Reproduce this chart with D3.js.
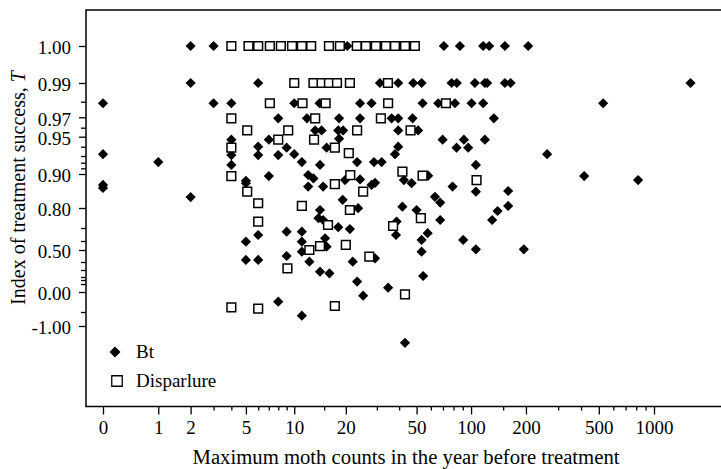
<!DOCTYPE html>
<html>
<head>
<meta charset="utf-8">
<script src="https://cdn.jsdelivr.net/npm/d3@7"></script>
<style>
  body { margin: 0; background: #fff; }
  svg text { font-family: "Liberation Serif", "Times New Roman", serif; fill: #000; }
</style>
</head>
<body>
<script>
// scatter of treatment success vs. moth counts

var width = 721;
var height = 469;

// Bt (filled diamonds)
var btCounts = [
  0, 0, 0, 0, 1, 2, 2, 2, 3, 3,
  4, 4, 4, 4, 5, 5, 5, 5, 6, 6,
  6, 6, 6, 7, 7, 8, 8, 8, 9, 9,
  9, 10, 10, 11.1, 11.1, 11.1, 11.1, 11.1, 11.9, 12.1,
  13, 12.1, 12.3, 13.3, 14.5, 14.1, 14.2, 14.2, 13.9, 14.8,
  15.2, 15.5, 14.2, 16.1, 14.8, 15.5, 18.3, 18.3, 18.1, 19.3,
  19.8, 19.2, 18.1, 20.4, 21.1, 21.9, 23.2, 23.5, 24.1, 23.2,
  24.1, 28, 24.1, 25.1, 28.9, 31.9, 28, 29.3, 29.3, 31.2,
  39.5, 34.7, 36.3, 39.5, 39.5, 39.5, 37.9, 42.5, 46.9, 41.7,
  38.7, 38.4, 43.1, 47.5, 47.9, 53.3, 51, 54, 50, 58,
  57.6, 53.3, 53.3, 54.4, 63.2, 67.6, 67.6, 65.9, 81.5, 70.8,
  86.8, 78.1, 83.5, 69.7, 91.3, 83.2, 96.4, 79.1, 90.5, 100.6,
  104.9, 106.3, 106.3, 106.3, 116.5, 125.7, 153.3, 205.7, 119.1, 122.6,
  153.3, 164.8, 116.5, 133.4, 119.1, 159.8, 159.8, 139.8, 130.6, 194.7,
  261, 416, 528, 819, 1581
];
var btT = [
  0.979, 0.932, 0.868, 0.859, 0.921, 1.00, 0.99, 0.832, 1.00, 0.979,
  0.979, 0.947, 0.931, 0.916, 0.880, 0.873, 0.593, 0.417, 0.99, 0.94,
  0.931, 0.646, 0.417, 0.947, 0.894, 0.969, 0.931, -0.243, 0.939, 0.672,
  0.45, 0.932, 0.979, 0.921, 0.672, 0.593, 0.486, -0.632, 0.969, 0.897,
  0.887, 0.863, 0.403, 0.957, 0.957, 0.979, 0.916, 0.79, 0.749, 0.74,
  0.621, 0.537, 0.276, 0.253, 0.863, 0.939, 0.969, 0.948, 0.957, 0.957,
  0.882, 0.824, 0.704, 1.00, 0.692, 0.403, 0.13, 0.799, 0.884, 0.921,
  0.979, 0.979, 0.969, -0.093, 0.921, 0.921, 0.868, 0.874, 0.431, 0.99,
  0.99, 0.054, 0.969, 0.969, 0.957, 0.94, 0.932, 0.882, 0.873, 0.804,
  0.732, 0.646, -1.6, 0.969, 0.99, 0.99, 0.957, 0.979, 0.79, 0.895,
  0.66, 0.608, 0.486, 0.214, 0.833, 0.816, 0.74, 0.979, 0.979, 1.00,
  1.00, 0.99, 0.99, 0.947, 0.947, 0.939, 0.939, 0.863, 0.608, 0.979,
  0.99, 0.916, 0.848, 0.508, 1.00, 1.00, 1.00, 1.00, 0.99, 0.99,
  0.99, 0.99, 0.979, 0.969, 0.947, 0.85, 0.806, 0.785, 0.74, 0.508,
  0.932, 0.894, 0.979, 0.882, 0.99
];

// Disparlure (open squares)
var dispCounts = [
  4, 5.2, 6, 7.1, 8.3, 9.7, 11.1, 12.6, 16, 18.5,
  23.1, 26, 29.6, 33.7, 37.9, 43.1, 48.9, 10, 13, 14.5,
  16, 17.8, 21.1, 34.6, 7.1, 11.2, 15.3, 34.7, 72.7, 4,
  13.3, 31.6, 5.1, 9.2, 23.2, 46.3, 13.1, 8, 4, 17.3,
  20.8, 21.2, 41.7, 54, 107.2, 17.3, 25.1, 11.1, 21.1, 15.8,
  37, 52.8, 12.3, 14.2, 20, 27.2, 9.1, 43.1, 17.3, 4,
  5.1, 6, 6, 4, 6
];
var dispT = [
  1, 1, 1, 1, 1, 1, 1, 1, 1, 1,
  1, 1, 1, 1, 1, 1, 1, 0.99, 0.99, 0.99,
  0.99, 0.99, 0.99, 0.99, 0.979, 0.979, 0.979, 0.979, 0.979, 0.969,
  0.969, 0.969, 0.957, 0.957, 0.957, 0.957, 0.947, 0.947, 0.939, 0.939,
  0.933, 0.897, 0.904, 0.895, 0.882, 0.870, 0.848, 0.806, 0.79, 0.715,
  0.71, 0.749, 0.50, 0.544, 0.556, 0.444, 0.321, -0.057, -0.35, 0.894,
  0.848, 0.814, 0.732, -0.383, -0.418
];

// tick labels
var xMajor = [0, 1, 2, 5, 10, 20, 50, 100, 200, 500, 1000];
var xMinor = [3, 4, 6, 7, 8, 9, 15, 30, 40, 60, 70, 80, 90, 150, 300, 400, 600, 700, 800, 900];
var yMajor = [1.00, 0.99, 0.97, 0.95, 0.90, 0.80, 0.50, 0.00, -1.00];
var yMinor = [0.98, 0.96, 0.94, 0.93, 0.92, 0.91, 0.7, 0.6, 0.4, 0.3, 0.2, 0.15, 0.1, -0.5];

// frame  (note: "top" is taken by window.top, so plot* names)
var plotLeft = 86, plotTop = 10, plotRight = 723, plotBottom = 406.5;

// the T axis is drawn on the paper's own stretched scale
var yBreaks = [-1, -0.5, 0, 0.1, 0.15, 0.2, 0.3, 0.4, 0.5, 0.6, 0.7, 0.8, 0.9,
               0.91, 0.92, 0.93, 0.94, 0.95, 0.96, 0.97, 0.98, 0.99, 1.0];
var yBreakPos = [326, 312, 292, 284, 280, 277, 270, 262, 250, 241, 228, 208, 174,
                 168.3, 162.7, 156, 146.7, 136.7, 127.7, 117.3, 101.7, 83, 46];

var x = d3.scaleLog().domain([1, 1001]).range([103, 654]);
var y = d3.scaleLinear().domain(yBreaks).range(yBreakPos);

var svg = d3.select("body").append("svg")
    .attr("width", width)
    .attr("height", height);

svg.append("rect").attr("width", width).attr("height", height).attr("fill", "#fff");

// axes
var xAxis = svg.append("g")
    .attr("transform", "translate(0," + plotBottom + ")")
    .call(d3.axisBottom(x)
      .tickValues(xMajor.map(function(d) { return d + 1; }))
      .tickFormat(function(d) { return Math.round(d - 1); })
      .tickSize(8).tickPadding(6));
svg.append("g")
    .attr("transform", "translate(0," + plotBottom + ")")
    .call(d3.axisBottom(x)
      .tickValues(xMinor.map(function(d) { return d + 1; }))
      .tickFormat("").tickSize(4));

var yAxis = svg.append("g")
    .attr("transform", "translate(" + plotLeft + ",0)")
    .call(d3.axisLeft(y)
      .tickValues(yMajor)
      .tickFormat(function(d) { return d.toFixed(2); })
      .tickSize(7).tickPadding(8));
svg.append("g")
    .attr("transform", "translate(" + plotLeft + ",0)")
    .call(d3.axisLeft(y).tickValues(yMinor).tickFormat("").tickSize(5));

svg.selectAll(".domain").remove();
svg.selectAll(".tick line").attr("stroke", "#000").attr("stroke-width", 1.3);
svg.selectAll(".tick text").attr("font-size", 19).attr("fill", "#000")
    .style("font-family", "'Liberation Serif', serif");
yAxis.selectAll(".tick text").attr("dy", "0.42em");

svg.append("path")
    .attr("d", "M" + plotRight + "," + plotTop + "H" + plotLeft + "V" + plotBottom + "H" + plotRight)
    .attr("fill", "none")
    .attr("stroke", "#000")
    .attr("stroke-width", 1.5);

// points
var diamond = d3.symbol().type(d3.symbolSquare).size(52);
var square = d3.symbol().type(d3.symbolSquare).size(76);

svg.append("g").selectAll("path")
    .data(btCounts.map(function(c, i) { return {c: c, t: btT[i]}; }))
  .enter().append("path")
    .attr("d", diamond)
    .attr("transform", function(d) {
      return "translate(" + x(d.c + 1) + "," + y(d.t) + ") rotate(45)";
    })
    .attr("fill", "#000");

svg.append("g").selectAll("path")
    .data(dispCounts.map(function(c, i) { return {c: c, t: dispT[i]}; }))
  .enter().append("path")
    .attr("d", square)
    .attr("transform", function(d) {
      return "translate(" + x(d.c + 1) + "," + y(d.t) + ")";
    })
    .attr("fill", "#fff")
    .attr("stroke", "#000")
    .attr("stroke-width", 1.5);

// legend
var legend = svg.append("g");
legend.append("path")
    .attr("d", d3.symbol().type(d3.symbolSquare).size(60))
    .attr("transform", "translate(115,352) rotate(45)")
    .attr("fill", "#000");
legend.append("text").attr("x", 136).attr("y", 358).attr("font-size", 19).text("Bt");
legend.append("path")
    .attr("d", d3.symbol().type(d3.symbolSquare).size(110))
    .attr("transform", "translate(117,381)")
    .attr("fill", "#fff").attr("stroke", "#000").attr("stroke-width", 1.3);
legend.append("text").attr("x", 136).attr("y", 387).attr("font-size", 19).text("Disparlure");

// axis titles
svg.append("text")
    .attr("x", 406).attr("y", 464)
    .attr("text-anchor", "middle")
    .attr("font-size", 20)
    .attr("textLength", 427).attr("lengthAdjust", "spacingAndGlyphs")
    .text("Maximum moth counts in the year before treatment");

var yTitle = svg.append("text")
    .attr("transform", "translate(25,188) rotate(-90)")
    .attr("text-anchor", "middle")
    .attr("font-size", 20);
yTitle.append("tspan").text("Index of treatment success, ");
yTitle.append("tspan").attr("font-style", "italic").text("T");
</script>
</body>
</html>
